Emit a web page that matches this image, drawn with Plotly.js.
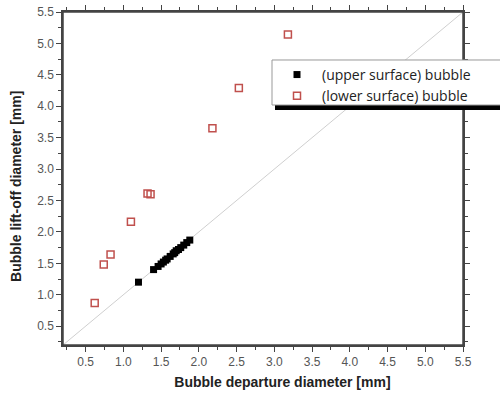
<!DOCTYPE html>
<html>
<head>
<meta charset="utf-8">
<script src="https://cdn.plot.ly/plotly-3.0.1.min.js"></script>
<style>html,body{margin:0;padding:0;background:#fff;}#chart{width:500px;height:394px;}</style>
</head>
<body>
<div id="chart"></div>
<script>
// Upper surface bubble (filled black squares)
var upperDeparture = [1.20, 1.40, 1.46, 1.50, 1.53, 1.56, 1.58, 1.62, 1.66, 1.68, 1.70, 1.73, 1.76, 1.80, 1.84, 1.88];
var upperLiftoff   = [1.20, 1.40, 1.45, 1.49, 1.52, 1.55, 1.57, 1.61, 1.65, 1.67, 1.70, 1.72, 1.75, 1.79, 1.83, 1.87];
// Lower surface bubble (open red squares)
var lowerDeparture = [0.62, 0.74, 0.83, 1.10, 1.32, 1.36, 2.18, 2.53, 3.18];
var lowerLiftoff   = [0.87, 1.48, 1.64, 2.16, 2.61, 2.60, 3.65, 4.29, 5.14];
// y = x reference line
var refLine = [0.2, 5.5];
var axisRange = [0.2, 5.5];

var FONT = '"Liberation Sans", Arial, sans-serif';
var NB = '\u00a0';
function pad(n) { return new Array(n + 1).join(NB); }

var traces = [
  {x: refLine, y: refLine, mode: 'lines', line: {color: '#cfcfcf', width: 1}, showlegend: false, hoverinfo: 'skip'},
  {x: upperDeparture, y: upperLiftoff, mode: 'markers', name: '(upper surface) bubble',
   marker: {symbol: 'square', size: 7, color: '#000000'}},
  {x: lowerDeparture, y: lowerLiftoff, mode: 'markers', name: '(lower surface) bubble',
   marker: {symbol: 'square-open', size: 7, color: '#c0504d', line: {width: 1.5, color: '#c0504d'}}}
];

var TICKFONT = {family: FONT, size: 12, color: '#555'};

function axis(title, standoff) {
  return {
    range: axisRange, tick0: 0.5, dtick: 0.5, tickformat: '.1f', showgrid: false, zeroline: false,
    showline: true, mirror: 'allticks', linecolor: '#444', linewidth: 1.5,
    ticks: 'outside', ticklen: 5, tickwidth: 1.2, tickcolor: '#444',
    minor: {dtick: 0.25, ticks: 'outside', ticklen: 3, tickwidth: 1, tickcolor: '#444', showgrid: false},
    tickfont: TICKFONT,
    title: {text: title, font: {family: FONT, size: 14, color: '#222'}, standoff: standoff}
  };
}

var layout = {
  width: 500, height: 394,
  margin: {l: 63, r: 37, t: 12, b: 49, autoexpand: false},
  paper_bgcolor: '#fff', plot_bgcolor: '#fff',
  font: {family: FONT, color: '#222'},
  xaxis: axis('<b>' + pad(10) + 'Bubble departure diameter [mm]</b>', 9),
  yaxis: axis('<b>Bubble lift-off diameter [mm]' + pad(4) + '</b>', 12),
  legend: {x: 0.5225, y: 0.859, xanchor: 'left', yanchor: 'top', bgcolor: 'rgba(0,0,0,0)',
    borderwidth: 0, font: {family: '"Open Sans", ' + FONT, size: 14, color: '#222'},
    tracegroupgap: 0, itemwidth: 40},
  shapes: [
    // plot frame
    {type: 'rect', xref: 'paper', yref: 'paper', x0: 0, x1: 1, y0: 0, y1: 1,
     line: {width: 1.5, color: '#444'}, layer: 'above'},
    // legend drop shadow
    {type: 'rect', xref: 'paper', yref: 'paper', x0: 0.53, x1: 1.1, y0: 0.7057, y1: 0.7207,
     fillcolor: '#000', line: {width: 0}, layer: 'above'},
    // legend frame
    {type: 'rect', xref: 'paper', yref: 'paper', x0: 0.5225, x1: 1.1, y0: 0.7207, y1: 0.8559,
     fillcolor: '#fff', line: {width: 1, color: '#999'}, layer: 'above'}
  ],
  showlegend: true
};

Plotly.newPlot('chart', traces, layout, {displayModeBar: false});
</script>
</body>
</html>
